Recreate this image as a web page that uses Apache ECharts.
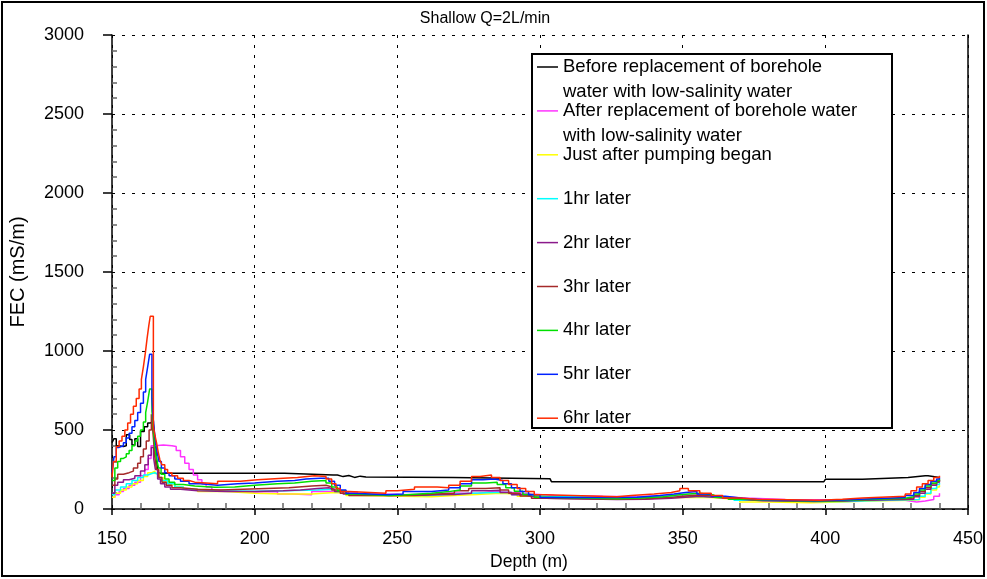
<!DOCTYPE html>
<html>
<head>
<meta charset="utf-8">
<script src="https://cdn.jsdelivr.net/npm/echarts@6/dist/echarts.min.js"></script>
<style>
  html, body { margin: 0; padding: 0; background: #fff; }
  #chart { width: 987px; height: 579px; }
</style>
</head>
<body>
<div id="chart"></div>
<script>
// FEC logs, shallow pumping test (Q = 2 L/min): [depth (m), FEC (mS/m)]
const seriesNames = [
  'Before replacement of borehole water with low-salinity water',
  'After replacement of borehole water with low-salinity water',
  'Just after pumping began',
  '1hr later', '2hr later', '3hr later', '4hr later', '5hr later', '6hr later'
];
const legendLines = [
  ['Before replacement of borehole', 'water with low-salinity water'],
  ['After replacement of borehole water', 'with low-salinity water'],
  ['Just after pumping began'],
  ['1hr later'], ['2hr later'], ['3hr later'], ['4hr later'], ['5hr later'], ['6hr later']
];
const seriesColors = ['#000000', '#ff33ff', '#ffff00', '#00ffff', '#8b1a8b', '#a52a2a', '#00e000', '#0022ff', '#ff2a00'];

const fecBefore = [[150,420],[150.7,445],[151.5,400],[152.3,395],[154,400],[155,470],[156.2,440],[157,405],[158,445],[159,395],[160,490],[161.3,520],[162.5,545],[163.5,555],[164.5,540],[165.2,400],[165.8,280],[166.3,226],[210.5,226],[211,215],[227.5,215],[229,205],[231,212],[233,200],[235,208],[237,202],[239,200],[269.5,200],[270,192],[303.5,188],[304,173],[399.5,173],[400,188],[413,188],[413.5,200],[429,200],[429.5,210],[435,210],[436,200],[440,200]];
const fecAfter = [[150,75],[151,90],[152.5,110],[154,130],[156,150],[158,170],[160,210],[161.5,250],[162.7,320],[163.7,400],[165,405],[168,400],[171,395],[172.5,370],[174,330],[175.5,290],[177,250],[178.5,215],[180,185],[181.5,160],[183,140],[185,120],[188,110],[194,108],[200,110],[208,95],[213,90],[220,110],[228,108],[236,95],[244,90],[254,95],[262,102],[270,98],[278,110],[284,105],[290,95],[297,85],[305,80],[322,78],[332,82],[345,90],[350,85],[356,78],[364,70],[372,60],[386,55],[420,55],[428,45],[432,50],[435,60],[438,80],[440,100]];
const fecPump0 = [[150,75],[151,100],[153,120],[155,140],[157,160],[159,180],[161,205],[162.5,230],[164,240],[165,225],[166.5,200],[168,175],[170,155],[172,140],[175,125],[180,110],[190,100],[200,95],[210,95],[220,105],[228,100],[232,85],[236,78],[262,85],[270,92],[278,100],[286,95],[292,80],[300,68],[312,65],[330,70],[344,75],[352,72],[360,60],[370,45],[380,40],[395,45],[405,50],[415,55],[430,58],[433,75],[435,95],[437,120],[439,140],[440,150]];
const fecHr1 = [[150,90],[151,120],[153,140],[155,160],[157,180],[159,200],[161,215],[162.5,225],[164,230],[165,220],[166,200],[167.5,180],[169.5,160],[172,140],[175,125],[179,115],[186,112],[200,115],[210,120],[222,125],[228,110],[232,95],[236,85],[260,95],[270,100],[276,105],[284,105],[290,92],[296,80],[302,72],[330,75],[345,80],[352,78],[360,68],[368,55],[378,48],[398,48],[408,52],[415,58],[430,60],[433,80],[435,100],[437,130],[439,155],[440,165]];
const fecHr2 = [[150,100],[151,150],[152,170],[154,185],[156,195],[158,210],[160,240],[161.5,280],[162.7,340],[163.8,390],[164.6,320],[165.2,250],[166,190],[167,160],[168.5,140],[170.5,125],[174,115],[180,110],[190,110],[200,115],[210,120],[216,130],[222,135],[226,125],[228,110],[231,95],[234,85],[248,85],[256,90],[264,92],[270,100],[276,115],[282,118],[286,105],[290,90],[294,78],[298,68],[302,60],[327,62],[337,68],[346,75],[351,80],[356,72],[362,62],[370,52],[378,48],[396,50],[406,55],[414,60],[428,62],[431,78],[433,100],[435,125],[437,150],[439,170],[440,180]];
const fecHr3 = [[150,150],[151,190],[152,220],[154,230],[156,240],[157.5,260],[159,290],[160,330],[161,380],[162,430],[163,500],[163.8,600],[164.5,450],[165,330],[165.6,250],[166.4,200],[167.5,170],[169,150],[171,135],[174,125],[180,120],[188,125],[196,130],[204,135],[212,145],[220,150],[225,140],[227,120],[230,100],[233,85],[248,88],[256,95],[264,100],[270,115],[275,130],[281,135],[286,120],[289,100],[293,82],[297,68],[302,62],[327,65],[337,72],[345,80],[350,88],[356,80],[362,68],[368,58],[375,50],[396,52],[406,58],[414,65],[428,70],[431,85],[433,110],[435,135],[437,160],[439,175],[440,185]];
const fecHr4 = [[150,180],[151,260],[152,300],[153,320],[154,330],[155,350],[156,370],[157,400],[158,430],[159,460],[160,500],[161,550],[161.8,610],[162.5,680],[163.2,760],[164,620],[164.5,500],[165,400],[165.6,320],[166.3,260],[167.2,220],[168.5,190],[170,170],[172,155],[175,145],[179,138],[186,140],[193,150],[200,160],[208,165],[214,175],[220,180],[225,165],[227,140],[229,115],[232,95],[235,85],[247,90],[253,100],[262,110],[268,120],[272,145],[276,165],[281,170],[285,155],[288,135],[291,112],[294,92],[298,75],[302,65],[327,70],[335,78],[343,88],[348,95],[352,100],[356,88],[361,75],[366,62],[372,55],[380,50],[395,52],[404,58],[412,68],[428,78],[431,95],[433,120],[435,145],[437,165],[439,180],[440,190]];
const fecHr5 = [[150,230],[150.7,330],[151.5,390],[152.5,400],[154,420],[155,450],[156,480],[157,520],[158,560],[159,610],[160,670],[161,740],[161.8,820],[162.5,900],[163.2,980],[164,700],[164.3,600],[164.8,500],[165.3,420],[165.8,360],[166.5,300],[167.3,260],[168.5,230],[170,210],[172,190],[174,175],[177,160],[181,150],[187,160],[194,165],[200,175],[208,180],[214,190],[218,195],[223,195],[226,175],[228,150],[230,120],[232,100],[235,90],[246,95],[252,110],[262,120],[268,135],[272,160],[276,185],[280,190],[284,180],[287,160],[290,135],[293,110],[296,90],[300,72],[327,75],[334,85],[342,95],[347,105],[351,110],[355,95],[360,80],[365,68],[371,58],[378,52],[396,55],[404,62],[412,72],[428,85],[431,105],[433,130],[435,155],[437,175],[439,190],[440,200]];
const fecHr6 = [[150,200],[150.5,300],[151.5,395],[152.5,430],[153.5,460],[154.5,500],[155.5,545],[156.5,600],[157.5,650],[158.5,700],[159.5,760],[160.3,820],[161,900],[161.7,990],[162.3,1080],[162.9,1160],[163.4,1220],[164.5,520],[165,470],[165.6,420],[166.2,360],[166.8,310],[167.5,280],[168.5,250],[169.5,230],[171,210],[173,195],[175,180],[177,170],[179,160],[187,175],[195,185],[201,195],[210,200],[215,210],[221,205],[225,190],[227,160],[228.5,130],[230,110],[233,100],[246,115],[250,125],[256,140],[264,135],[268,150],[272,175],[276,205],[279,215],[283,200],[286,180],[289,155],[292,130],[295,110],[298,90],[302,78],[327,85],[332,95],[340,105],[346,115],[349,130],[352,115],[356,100],[360,85],[364,70],[370,62],[376,55],[398,62],[406,70],[413,80],[428,95],[430,115],[432,140],[434,160],[436,180],[438,200],[440,210]];
const seriesData = [fecBefore, fecAfter, fecPump0, fecHr1, fecHr2, fecHr3, fecHr4, fecHr5, fecHr6];

const FONT = '"Liberation Sans", Arial, sans-serif';
const NB = '\u00a0';

// Legend rows: first text line sits beside the swatch, a second line (if any) below it.
const legendText = {};
seriesNames.forEach((n, i) => {
  const l = legendLines[i];
  legendText[n] = NB + '\n' + l[0] + '\n' + (l[1] || NB);
});

const chart = echarts.init(document.getElementById('chart'), null, { renderer: 'canvas' });

chart.setOption({
  animation: false,
  backgroundColor: '#ffffff',
  title: {
    text: 'Shallow Q=2L/min',
    left: 480, top: 6, textAlign: 'center',
    textStyle: { fontFamily: FONT, fontSize: 16, fontWeight: 'normal', color: '#000' }
  },
  grid: { left: 112, right: 19, top: 35, bottom: 70, containLabel: false, outerBoundsMode: 'none' },
  xAxis: {
    type: 'value', min: 150, max: 450, interval: 50,
    name: 'Depth (m)', nameLocation: 'middle', nameGap: 35,
    nameTextStyle: { fontFamily: FONT, fontSize: 17.5, color: '#000', padding: [0, 22, 0, 0] },
    axisLine: { show: true, onZero: false, lineStyle: { color: '#000', width: 1.5 } },
    axisTick: { show: true, inside: false, length: 6, lineStyle: { color: '#000', width: 1.5 } },
    minorTick: { show: true, splitNumber: 5, length: -6, lineStyle: { color: '#666', width: 1.5 } },
    axisLabel: { margin: 21, fontFamily: FONT, fontSize: 18, color: '#000', formatter: v => String(v) },
    splitLine: { show: true, lineStyle: { color: '#000', type: [3, 7], width: 1 } }
  },
  yAxis: [{
    type: 'value', min: 0, max: 3000, interval: 500,
    name: 'FEC (mS/m)', nameLocation: 'middle', nameGap: 84, nameRotate: 90,
    nameTextStyle: { fontFamily: FONT, fontSize: 20, color: '#000' },
    axisLine: { show: true, onZero: false, lineStyle: { color: '#000', width: 1.5 } },
    axisTick: { show: true, inside: false, length: 9, lineStyle: { color: '#000', width: 1.5 } },
    minorTick: { show: true, splitNumber: 5, length: -5, lineStyle: { color: '#666', width: 1.5 } },
    axisLabel: { margin: 28, fontFamily: FONT, fontSize: 18, color: '#000', formatter: v => String(v) },
    splitLine: { show: true, lineStyle: { color: '#000', type: [3, 7], width: 1 } }
  }, {
    type: 'value', min: 0, max: 3000, position: 'right',
    axisLine: { show: true, lineStyle: { color: '#000', width: 1.5 } },
    axisTick: { show: false }, axisLabel: { show: false }, splitLine: { show: false }
  }],
  legend: {
    orient: 'vertical', left: 537, top: 29.5, padding: 0, z: 6,
    icon: 'rect', itemWidth: 21, itemHeight: 1.5, itemGap: -31.1,
    data: seriesNames,
    formatter: name => legendText[name],
    textStyle: { fontFamily: FONT, fontSize: 18.5, lineHeight: 25, color: '#000' }
  },
  graphic: [
    { type: 'rect', z: 3, silent: true, shape: { x: 532, y: 54, width: 360, height: 374 },
      style: { fill: '#fff', stroke: '#000', lineWidth: 2 } },
    { type: 'rect', z: 0, silent: true, shape: { x: 2, y: 2, width: 982, height: 574 },
      style: { fill: 'none', stroke: '#000', lineWidth: 2 } }
  ],
  series: seriesNames.map((n, i) => ({
    name: n, type: 'line', step: 'end', symbol: 'none', z: 2,
    data: seriesData[i], color: seriesColors[i],
    lineStyle: { color: seriesColors[i], width: 1.5 }
  }))
});
</script>
</body>
</html>
